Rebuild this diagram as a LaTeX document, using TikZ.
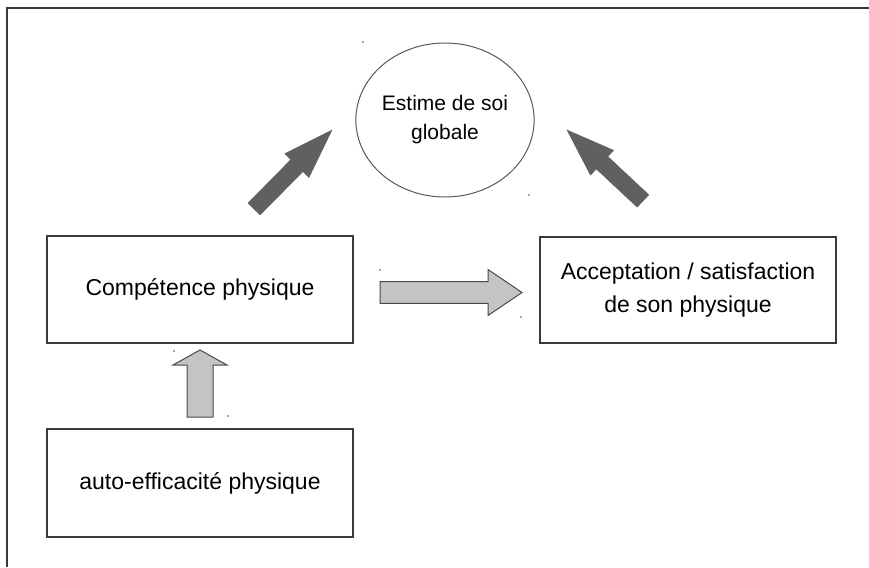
\documentclass[tikz,border=0pt]{standalone}
\usepackage{fontspec}
\setmainfont{Liberation Sans}
\usetikzlibrary{calc,shapes.geometric}

\definecolor{framegray}{HTML}{3A3A3A}
\definecolor{darkarrow}{HTML}{606060}
\definecolor{lightarrow}{HTML}{C4C4C4}
\definecolor{arrowline}{HTML}{4A4A4A}

% block arrow: [style]{tail}{tip}{shaft half width}{head half width}{head length}
\newcommand{\blockarrow}[6][]{%
  \path ($(#3)!#6!(#2)$) coordinate (ba-base);
  \filldraw[#1]
    ($(#2)!#4!90:(#3)$) -- ($(ba-base)!#4!-90:(#2)$) --
    ($(ba-base)!#5!-90:(#2)$) -- (#3) --
    ($(ba-base)!#5!90:(#2)$) -- ($(ba-base)!#4!90:(#2)$) --
    ($(#2)!#4!-90:(#3)$) -- cycle;
}

\tikzset{
  box/.style={draw=framegray, line width=1.6pt, rectangle, align=center,
    font=\fontsize{23}{33}\selectfont, text=black, inner sep=0pt},
  bubble/.style={draw=black!65, line width=1pt, ellipse, align=center,
    font=\fontsize{21}{29}\selectfont, text=black, inner sep=0pt},
  heavyarrow/.style={fill=darkarrow, draw=darkarrow, line width=0.4pt, line join=miter},
  lightblock/.style={fill=lightarrow, draw=arrowline, line width=1pt, line join=miter},
  speck/.style={fill=black!70}
}

\begin{document}
\begin{tikzpicture}[x=1pt,y=-1pt]
  \useasboundingbox (0,0) rectangle (869,567);
  \fill[white] (0,0) rectangle (869,567);

  % outer frame (top and left edges)
  \draw[framegray, line width=1.8pt] (7,567) -- (7,8) -- (869,8);

  % concepts
  \node[bubble, minimum width=164pt, minimum height=154pt] (estime) at (445,120) {Estime de soi\\globale};
  \node[box, minimum width=306pt, minimum height=107pt] (comp) at (200,289.5) {Compétence physique};
  \node[box, minimum width=296pt, minimum height=106pt] (accept) at (688,290) {Acceptation / satisfaction\\de son physique};
  \node[box, minimum width=306pt, minimum height=108pt] (auto) at (200,483) {auto-efficacité physique};

  % arrow end points
  \coordinate (a1t) at (254,209);  \coordinate (a1h) at (332,130);
  \coordinate (a2t) at (643,201);  \coordinate (a2h) at (567,130);
  \coordinate (a3t) at (380,292.5); \coordinate (a3h) at (522,292.5);
  \coordinate (a4t) at (200,417);  \coordinate (a4h) at (200,350);

  % influences towards global self-esteem
  \blockarrow[heavyarrow]{a1t}{a1h}{8.5pt}{17pt}{50pt}
  \blockarrow[heavyarrow]{a2t}{a2h}{8.5pt}{17pt}{48pt}

  % competence -> acceptance, self-efficacy -> competence
  \blockarrow[lightblock]{a3t}{a3h}{10.8pt}{23pt}{34pt}
  \blockarrow[lightblock]{a4t}{a4h}{13pt}{27pt}{15pt}

  % small specks
  \foreach \p in {(363,42),(529,195),(380,270),(521,317),(174,351),(228,416)}
    \fill[speck] \p circle (0.9pt);
\end{tikzpicture}
\end{document}
